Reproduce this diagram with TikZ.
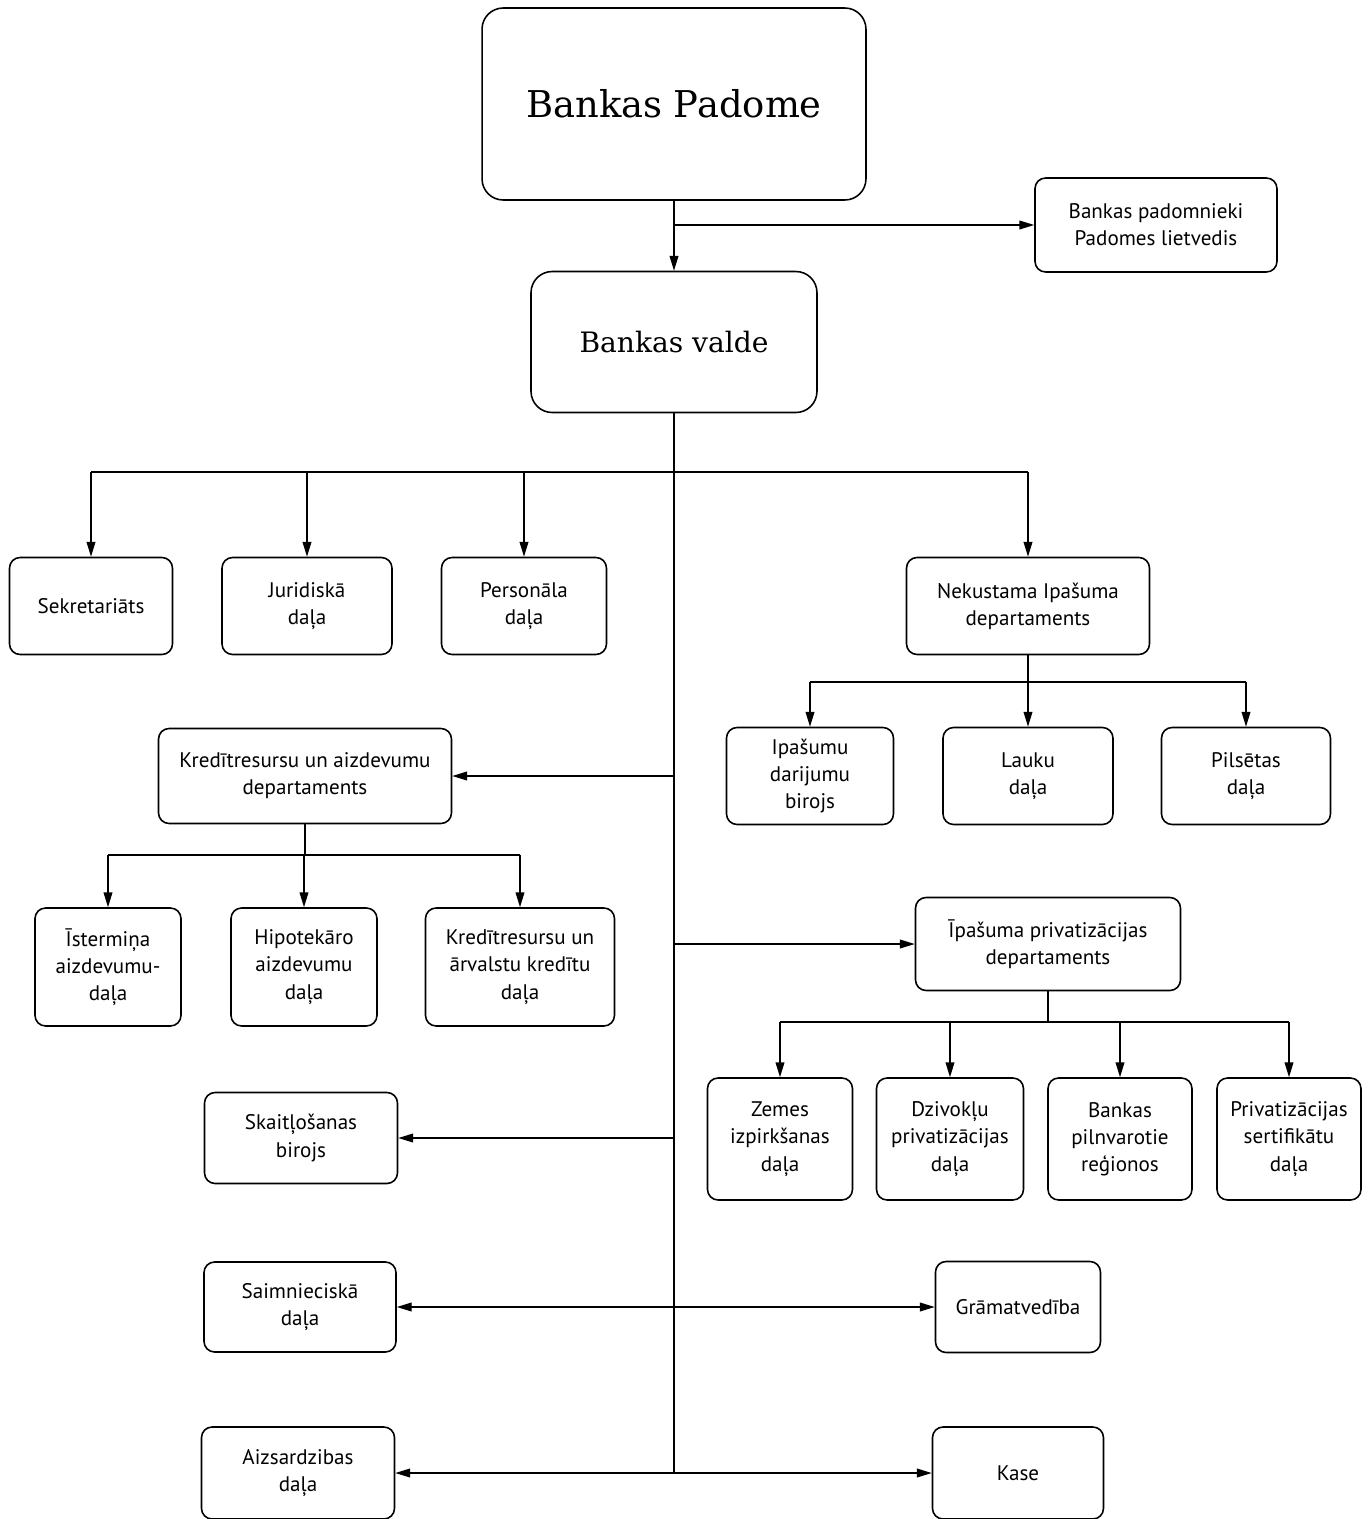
\documentclass[tikz,border=0pt]{standalone}
\usepackage{fontspec}
\setmainfont{PT Sans}
\newfontfamily\titlefont{DejaVu Serif}
\usetikzlibrary{arrows.meta,positioning}
\tikzset{
  unit-style/.style 2 args = {
    rectangle, rounded corners=6pt, draw, line width=0.9pt,
    minimum width=#1, minimum height=#2,
    align=center, inner sep=2pt,
    font=\fontsize{12}{15.5}\selectfont
  },
  board-style/.style 2 args = {
    unit-style={#1}{#2}, rounded corners=12pt
  },
  bus-style/.style = {draw, line width=0.8pt},
  link-style/.style = {bus-style, -{Triangle[length=8.5pt,width=5pt]}},
  both-style/.style = {bus-style, {Triangle[length=8.5pt,width=5pt]}-{Triangle[length=8.5pt,width=5pt]}}
}
\newcommand\titleSize{\titlefont\fontsize{21}{25}\selectfont}
\newcommand\boardSize{\titlefont\fontsize{16}{19}\selectfont}
\begin{document}
\begin{tikzpicture}[x=0.02cm, y=-0.02cm]
  \useasboundingbox (0,0) rectangle (1370,1519);

  % top of the bank
  \node[board-style={7.68cm}{3.84cm}, font=\titleSize] (padome) at (674,104) {Bankas Padome};
  \node[unit-style={4.84cm}{1.88cm}] (padomnieki) at (1156,225) {Bankas padomnieki\\Padomes lietvedis};
  \node[board-style={5.72cm}{2.82cm}, font=\boardSize] (valde) at (674,342) {Bankas valde};

  % first row
  \node[unit-style={3.26cm}{1.94cm}] (sekretariats) at (91,606) {Sekretariāts};
  \node[unit-style={3.4cm}{1.94cm}] (juridiska) at (307,606) {Juridiskā\\daļa};
  \node[unit-style={3.3cm}{1.94cm}] (personala) at (524,606) {Personāla\\daļa};
  \node[unit-style={4.86cm}{1.94cm}] (nekustama) at (1028,606) {Nekustama Ipašuma\\departaments};

  \node[unit-style={3.34cm}{1.94cm}] (ipasumu) at (810,776) {Ipašumu\\darijumu\\birojs};
  \node[unit-style={3.4cm}{1.94cm}] (lauku) at (1028,776) {Lauku\\daļa};
  \node[unit-style={3.38cm}{1.94cm}] (pilsetas) at (1246,776) {Pilsētas\\daļa};

  % credit
  \node[unit-style={5.86cm}{1.9cm}] (kredit) at (305,776) {Kredītresursu un aizdevumu\\departaments};
  \node[unit-style={2.92cm}{2.36cm}] (istermina) at (108,967) {Īstermiņa\\aizdevumu-\\daļa};
  \node[unit-style={2.92cm}{2.36cm}] (hipotekaro) at (304,967) {Hipotekāro\\aizdevumu\\daļa};
  \node[unit-style={3.78cm}{2.36cm}] (arvalstu) at (520,967) {Kredītresursu un\\ārvalstu kredītu\\daļa};

  % privatisation
  \node[unit-style={5.3cm}{1.86cm}] (privat) at (1048,944) {Īpašuma privatizācijas\\departaments};
  \node[unit-style={2.9cm}{2.44cm}] (zemes) at (780,1139) {Zemes\\izpirkšanas\\daļa};
  \node[unit-style={2.94cm}{2.44cm}] (dzivoklu) at (950,1139) {Dzivokļu\\privatizācijas\\daļa};
  \node[unit-style={2.88cm}{2.44cm}] (pilnvarotie) at (1120,1139) {Bankas\\pilnvarotie\\reģionos};
  \node[unit-style={2.88cm}{2.44cm}] (sertifikatu) at (1289,1139) {Privatizācijas\\sertifikātu\\daļa};

  % lower units
  \node[unit-style={3.86cm}{1.82cm}] (skaitlosanas) at (301,1138) {Skaitļošanas\\birojs};
  \node[unit-style={3.84cm}{1.8cm}] (saimnieciska) at (300,1307) {Saimnieciskā\\daļa};
  \node[unit-style={3.3cm}{1.82cm}] (gramatvediba) at (1018,1307) {Grāmatvedība};
  \node[unit-style={3.86cm}{1.84cm}] (aizsardzibas) at (298,1473) {Aizsardzibas\\daļa};
  \node[unit-style={3.42cm}{1.84cm}] (kase) at (1018,1473) {Kase};

  % connectors
  \draw[link-style] (padome) -- (valde);
  \coordinate (split) at (padome.south |- padomnieki);
  \draw[link-style] (split) -- (padomnieki);

  \draw[bus-style] (valde.south) -- (valde.south |- kase);

  \coordinate (bus-a) at (0,472);
  \draw[bus-style] (sekretariats.north |- bus-a) -- (nekustama.north |- bus-a);
  \foreach \unit in {sekretariats,juridiska,personala,nekustama}
    \draw[link-style] (\unit.north |- bus-a) -- (\unit.north);

  \coordinate (bus-b) at (0,682);
  \draw[bus-style] (nekustama.south) -- (nekustama.south |- bus-b);
  \draw[bus-style] (ipasumu.north |- bus-b) -- (pilsetas.north |- bus-b);
  \foreach \unit in {ipasumu,lauku,pilsetas}
    \draw[link-style] (\unit.north |- bus-b) -- (\unit.north);

  \draw[link-style] (valde.south |- kredit) -- (kredit);
  \coordinate (bus-c) at (0,855);
  \draw[bus-style] (kredit.south) -- (kredit.south |- bus-c);
  \draw[bus-style] (istermina.north |- bus-c) -- (arvalstu.north |- bus-c);
  \foreach \unit in {istermina,hipotekaro,arvalstu}
    \draw[link-style] (\unit.north |- bus-c) -- (\unit.north);

  \draw[link-style] (valde.south |- privat) -- (privat);
  \coordinate (bus-d) at (0,1022);
  \draw[bus-style] (privat.south) -- (privat.south |- bus-d);
  \draw[bus-style] (zemes.north |- bus-d) -- (sertifikatu.north |- bus-d);
  \foreach \unit in {zemes,dzivoklu,pilnvarotie,sertifikatu}
    \draw[link-style] (\unit.north |- bus-d) -- (\unit.north);

  \draw[link-style] (valde.south |- skaitlosanas) -- (skaitlosanas);
  \draw[both-style] (saimnieciska) -- (gramatvediba);
  \draw[both-style] (aizsardzibas) -- (kase);
\end{tikzpicture}
\end{document}
